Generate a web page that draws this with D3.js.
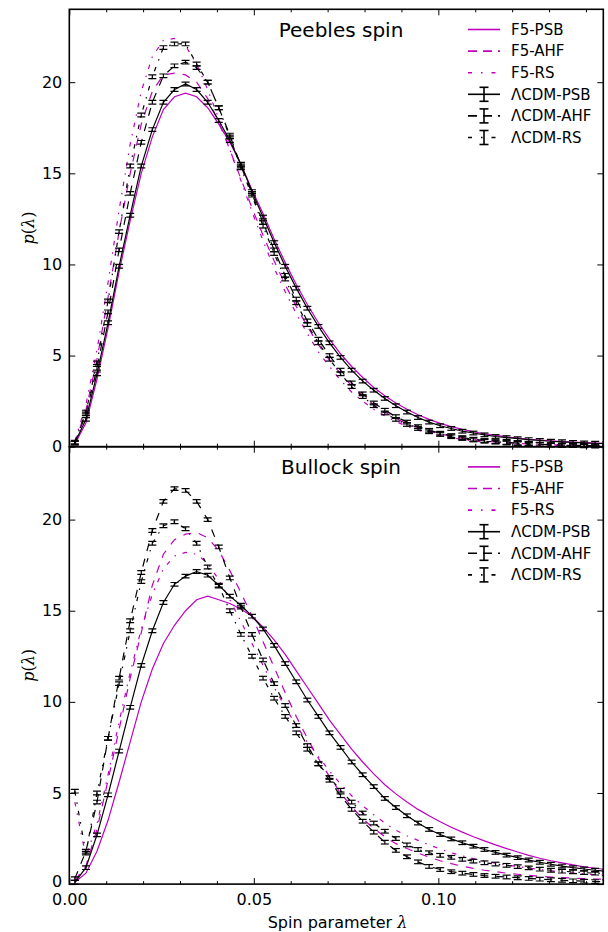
<!DOCTYPE html>
<html>
<head>
<meta charset="utf-8">
<script src="https://cdn.jsdelivr.net/npm/d3@7"></script>
<style>
  body { margin: 0; background: #fff; }
  svg text { font-family: "DejaVu Sans", sans-serif; fill: #000; }
</style>
</head>
<body>
<svg id="chart" width="608" height="932"></svg>
<script>
// bin centres of the spin parameter
const lambdaBins = [0.0015, 0.0045, 0.0075, 0.0105, 0.0135, 0.0165, 0.0195, 0.0225, 0.0255, 0.0285,
  0.0315, 0.0345, 0.0375, 0.0405, 0.0435, 0.0465, 0.0495, 0.0525, 0.0555, 0.0585,
  0.0615, 0.0645, 0.0675, 0.0705, 0.0735, 0.0765, 0.0795, 0.0825, 0.0855, 0.0885,
  0.0915, 0.0945, 0.0975, 0.1005, 0.1035, 0.1065, 0.1095, 0.1125, 0.1155, 0.1185,
  0.1215, 0.1245, 0.1275, 0.1305, 0.1335, 0.1365, 0.1395, 0.1425, 0.1455];

const xTicks = [0, 0.05, 0.10];
const xMinorTicks = [0.01, 0.02, 0.03, 0.04, 0.06, 0.07, 0.08, 0.09, 0.11, 0.12, 0.13, 0.14];
const yTicks = [0, 5, 10, 15, 20];

// Peebles spin
const peeF5PSB = [0.15, 1.3, 3.7, 6.5, 9.6, 12.4, 15.0, 17.0, 18.5, 19.2, 19.4, 19.2, 18.6, 17.7, 16.7, 15.5, 14.1, 12.8, 11.4, 10.1,
  8.9, 7.8, 6.8, 5.9, 5.1, 4.4, 3.8, 3.25, 2.8, 2.4, 2.05, 1.75, 1.5, 1.28, 1.1, 0.95, 0.82, 0.71, 0.62, 0.54,
  0.47, 0.41, 0.36, 0.32, 0.28, 0.25, 0.22, 0.2, 0.18];
const peeF5AHF = [0.2, 2.0, 4.8, 8.2, 11.8, 15.0, 17.7, 19.5, 20.4, 20.5, 20.4, 20.0, 19.1, 17.8, 16.3, 14.7, 13.1, 11.6, 10.2, 8.9,
  7.7, 6.6, 5.6, 4.75, 4.0, 3.35, 2.8, 2.3, 1.9, 1.55, 1.27, 1.04, 0.85, 0.7, 0.57, 0.47, 0.39, 0.32, 0.26, 0.22,
  0.18, 0.15, 0.12, 0.1, 0.085, 0.07, 0.06, 0.05, 0.05];
const peeF5RS = [0.3, 2.3, 5.3, 9.0, 13.0, 16.6, 19.5, 21.4, 22.3, 22.4, 22.0, 21.0, 19.6, 18.0, 16.3, 14.6, 12.9, 11.3, 9.8, 8.5,
  7.3, 6.2, 5.2, 4.4, 3.65, 3.0, 2.5, 2.05, 1.7, 1.38, 1.12, 0.91, 0.74, 0.6, 0.49, 0.4, 0.32, 0.26, 0.21, 0.17,
  0.14, 0.11, 0.09, 0.07, 0.06, 0.05, 0.04, 0.03, 0.03];
const peeLcdmPSB = [0.2, 1.5, 4.0, 6.8, 9.9, 12.7, 15.4, 17.4, 18.9, 19.6, 19.9, 19.6, 18.9, 17.9, 16.8, 15.5, 14.0, 12.6, 11.2, 9.9,
  8.7, 7.6, 6.6, 5.7, 4.9, 4.2, 3.6, 3.1, 2.65, 2.25, 1.9, 1.6, 1.35, 1.15, 1.0, 0.85, 0.75, 0.65, 0.56, 0.5,
  0.44, 0.39, 0.34, 0.3, 0.27, 0.24, 0.21, 0.19, 0.17];
const peeLcdmAHF = [0.2, 1.8, 4.3, 7.4, 10.8, 13.9, 16.7, 18.9, 20.35, 20.9, 21.1, 20.8, 20.0, 18.6, 17.1, 15.4, 13.9, 12.3, 10.8, 9.4,
  8.1, 6.9, 5.9, 5.0, 4.2, 3.5, 2.9, 2.4, 2.0, 1.65, 1.35, 1.1, 0.9, 0.74, 0.61, 0.5, 0.41, 0.34, 0.28, 0.23,
  0.19, 0.16, 0.13, 0.11, 0.09, 0.08, 0.07, 0.06, 0.06];
const peeLcdmRS = [0.25, 1.9, 4.6, 8.0, 11.8, 15.4, 18.2, 20.3, 21.9, 22.1, 22.1, 21.0, 20.0, 18.6, 17.0, 15.3, 13.8, 12.1, 10.6, 9.2,
  7.9, 6.7, 5.7, 4.8, 4.0, 3.3, 2.75, 2.25, 1.85, 1.5, 1.22, 1.0, 0.82, 0.67, 0.55, 0.45, 0.37, 0.3, 0.25, 0.2,
  0.17, 0.14, 0.11, 0.09, 0.08, 0.06, 0.05, 0.04, 0.04];

// Bullock spin
const bulF5PSB = [0.1, 0.6, 1.8, 3.5, 5.6, 7.8, 10.0, 11.8, 13.2, 14.2, 15.0, 15.6, 15.8, 15.6, 15.4, 15.1, 14.7, 14.1, 13.4, 12.6,
  11.7, 10.8, 9.9, 9.0, 8.2, 7.4, 6.7, 6.05, 5.45, 4.95, 4.5, 4.1, 3.75, 3.42, 3.12, 2.85, 2.6, 2.37, 2.15, 1.95,
  1.76, 1.58, 1.42, 1.28, 1.16, 1.05, 0.95, 0.87, 0.8];
const bulF5AHF = [0.2, 1.0, 3.0, 5.7, 8.5, 11.3, 13.8, 16.4, 18.1, 18.9, 19.2, 19.3, 19.0, 18.3, 17.2, 16.0, 14.7, 13.3, 11.9, 10.5,
  9.2, 8.0, 6.9, 5.9, 5.0, 4.25, 3.6, 3.05, 2.6, 2.22, 1.95, 1.7, 1.48, 1.28, 1.12, 0.98, 0.86, 0.76, 0.68, 0.6,
  0.54, 0.48, 0.43, 0.39, 0.36, 0.33, 0.3, 0.28, 0.27];
const bulF5RS = [4.5, 1.5, 3.3, 6.0, 8.9, 11.6, 14.0, 15.9, 17.3, 18.0, 18.2, 18.1, 17.6, 16.7, 15.6, 14.4, 13.2, 12.0, 10.8, 9.7,
  8.7, 7.8, 7.0, 6.2, 5.5, 4.85, 4.3, 3.8, 3.35, 2.95, 2.65, 2.4, 2.15, 1.92, 1.72, 1.55, 1.4, 1.27, 1.15, 1.05,
  0.96, 0.88, 0.8, 0.73, 0.67, 0.61, 0.56, 0.52, 0.49];
const bulLcdmPSB = [0.1, 0.9, 2.7, 4.9, 7.3, 9.7, 12.0, 13.9, 15.45, 16.45, 16.9, 17.15, 16.95, 16.4, 15.8, 15.3, 14.7, 14.0, 13.1, 12.1,
  11.1, 10.1, 9.2, 8.3, 7.5, 6.7, 6.0, 5.35, 4.7, 4.2, 3.75, 3.35, 3.0, 2.72, 2.48, 2.27, 2.08, 1.9, 1.74, 1.59,
  1.45, 1.32, 1.2, 1.09, 0.99, 0.9, 0.83, 0.76, 0.7];
const bulLcdmAHF = [0.3, 1.8, 4.5, 8.0, 11.3, 14.45, 17.1, 19.4, 21.0, 21.7, 21.6, 21.0, 20.0, 18.5, 16.8, 15.2, 13.7, 12.3, 11.0, 9.8,
  8.7, 7.6, 6.6, 5.7, 4.85, 4.1, 3.45, 2.85, 2.3, 1.85, 1.5, 1.22, 0.97, 0.8, 0.68, 0.6, 0.53, 0.47, 0.43, 0.39,
  0.35, 0.31, 0.27, 0.24, 0.21, 0.18, 0.16, 0.14, 0.13];
const bulLcdmRS = [5.1, 1.7, 5.0, 8.0, 11.0, 13.9, 16.6, 18.7, 19.66, 19.88, 19.5, 18.7, 17.4, 16.35, 15.0, 13.7, 12.5, 11.3, 10.2, 9.2,
  8.3, 7.4, 6.6, 5.85, 5.15, 4.5, 3.9, 3.35, 2.9, 2.5, 2.15, 1.9, 1.72, 1.58, 1.47, 1.36, 1.26, 1.17, 1.1, 1.03,
  0.96, 0.89, 0.82, 0.76, 0.71, 0.67, 0.63, 0.6, 0.58];

const seriesNames = ["F5-PSB", "F5-AHF", "F5-RS", "\u039BCDM-PSB", "\u039BCDM-AHF", "\u039BCDM-RS"];

const magenta = "#bf00bf";
const dashStyles = { solid: null, dashed: "8,8", dashdot: "4.5,7,1.5,7" };
const errHalf = 0.1;

const panels = [
  { title: "Peebles spin", top: 9.3,
    data: [peeF5PSB, peeF5AHF, peeF5RS, peeLcdmPSB, peeLcdmAHF, peeLcdmRS] },
  { title: "Bullock spin", top: 446.7,
    data: [bulF5PSB, bulF5AHF, bulF5RS, bulLcdmPSB, bulLcdmAHF, bulLcdmRS] }
];
const styles = [
  { color: magenta, dash: "solid", err: false },
  { color: magenta, dash: "dashed", err: false },
  { color: magenta, dash: "dashdot", err: false },
  { color: "#000", dash: "solid", err: true },
  { color: "#000", dash: "dashed", err: true },
  { color: "#000", dash: "dashdot", err: true }
];

const svg = d3.select("#chart");
const left = 69.3, right = 603.3, panelH = 437.4;
const x = d3.scaleLinear().domain([0, 0.1447]).range([left, right]);

svg.append("defs").append("clipPath").attr("id", "clip")
  .append("rect").attr("x", left).attr("y", 0).attr("width", right - left).attr("height", 932);

panels.forEach((p, pi) => {
  const y = d3.scaleLinear().domain([0, 24]).range([p.top + panelH, p.top]);
  const g = svg.append("g");
  const plot = g.append("g").attr("clip-path", "url(#clip)");

  const line = d3.line().x((d, i) => x(lambdaBins[i])).y(d => y(d));

  p.data.forEach((vals, si) => {
    const st = styles[si];
    plot.append("path")
      .datum(vals)
      .attr("d", line)
      .attr("fill", "none")
      .attr("stroke", st.color)
      .attr("stroke-width", 1.2)
      .attr("stroke-dasharray", dashStyles[st.dash]);

    if (st.err) {
      const eb = plot.append("g").attr("stroke", "#000").attr("stroke-width", 1.2);
      vals.forEach((v, i) => {
        const cx = x(lambdaBins[i]);
        eb.append("line").attr("x1", cx).attr("x2", cx)
          .attr("y1", y(v - errHalf)).attr("y2", y(v + errHalf));
        [v - errHalf, v + errHalf].forEach(e => {
          eb.append("line").attr("x1", cx - 4).attr("x2", cx + 4)
            .attr("y1", y(e)).attr("y2", y(e));
        });
      });
    }
  });

  // axes with inward ticks on all sides
  const bottomAxis = d3.axisBottom(x).tickValues(xTicks).tickSizeInner(-6).tickSizeOuter(0)
    .tickFormat(pi === 1 ? d3.format(".2f") : "");
  const bottomMinor = d3.axisBottom(x).tickValues(xMinorTicks).tickSizeInner(-3).tickSizeOuter(0).tickFormat("");
  const topAxis = d3.axisTop(x).tickValues(xTicks).tickSizeInner(-6).tickSizeOuter(0).tickFormat("");
  const topMinor = d3.axisTop(x).tickValues(xMinorTicks).tickSizeInner(-3).tickSizeOuter(0).tickFormat("");
  const leftAxis = d3.axisLeft(y).tickValues(yTicks).tickSizeInner(-6).tickSizeOuter(0).tickPadding(7);
  const rightAxis = d3.axisRight(y).tickValues(yTicks).tickSizeInner(-6).tickSizeOuter(0).tickFormat("");

  const axes = [
    [bottomAxis, `translate(0,${p.top + panelH})`, "xb"],
    [bottomMinor, `translate(0,${p.top + panelH})`, ""],
    [topAxis, `translate(0,${p.top})`, ""],
    [topMinor, `translate(0,${p.top})`, ""],
    [leftAxis, `translate(${left},0)`, "yl"],
    [rightAxis, `translate(${right},0)`, ""]
  ];
  axes.forEach(([ax, tr, kind]) => {
    const a = g.append("g").attr("transform", tr).call(ax);
    a.select(".domain").remove();
    a.selectAll(".tick line").attr("stroke", "#000").attr("stroke-width", 1);
    a.selectAll(".tick text").style("font-size", "16px").attr("fill", "#000");
    if (kind === "xb") a.selectAll(".tick text").attr("y", 9.5).attr("dy", "0.71em");
    // the lowest "0" sits a little above its tick, clear of "0.00"
    if (kind === "yl" && pi === 1) a.selectAll(".tick text").filter(d => d === 0).attr("dy", "0.13em");
  });

  g.append("rect")
    .attr("x", left).attr("y", p.top)
    .attr("width", right - left).attr("height", panelH)
    .attr("fill", "none").attr("stroke", "#000").attr("stroke-width", 1.6);

  // title
  g.append("text")
    .attr("x", 341).attr("y", p.top + 27.5)
    .attr("text-anchor", "middle")
    .style("font-size", "20px")
    .text(p.title);

  // y label
  const yl = g.append("text")
    .attr("transform", `translate(34,${p.top + panelH / 2}) rotate(-90)`)
    .attr("text-anchor", "middle")
    .style("font-size", "16px");
  yl.append("tspan").style("font-style", "italic").style("font-family", "'DejaVu Serif', serif").text("p");
  yl.append("tspan").style("font-family", "'DejaVu Serif', serif").text("(");
  yl.append("tspan").style("font-style", "italic").style("font-family", "'DejaVu Serif', serif").text("\u03BB");
  yl.append("tspan").style("font-family", "'DejaVu Serif', serif").text(")");

  // legend
  const lg = g.append("g");
  seriesNames.forEach((name, si) => {
    const st = styles[si];
    const ly = p.top + 20.2 + si * 21.6;
    lg.append("line")
      .attr("x1", 468).attr("x2", 500).attr("y1", ly).attr("y2", ly)
      .attr("stroke", st.color).attr("stroke-width", 1.6)
      .attr("stroke-dasharray", st.dash === "solid" ? null : (st.dash === "dashed" ? "9,6" : "4,9,1.5,9"));
    if (st.err) {
      lg.append("line").attr("x1", 484).attr("x2", 484).attr("y1", ly - 7).attr("y2", ly + 7)
        .attr("stroke", "#000").attr("stroke-width", 1.6);
      [ly - 7, ly + 7].forEach(e => lg.append("line").attr("x1", 479.5).attr("x2", 488.5)
        .attr("y1", e).attr("y2", e).attr("stroke", "#000").attr("stroke-width", 1.6));
    }
    lg.append("text").attr("x", 511).attr("y", ly).attr("dy", "0.35em")
      .style("font-size", "15px").text(name);
  });
});

// x label
const xl = svg.append("text")
  .attr("x", 337.5).attr("y", 927.5)
  .attr("text-anchor", "middle")
  .style("font-size", "16px");
xl.append("tspan").text("Spin parameter ");
xl.append("tspan").style("font-style", "italic").style("font-family", "'DejaVu Serif', serif").text("\u03BB");
</script>
</body>
</html>
